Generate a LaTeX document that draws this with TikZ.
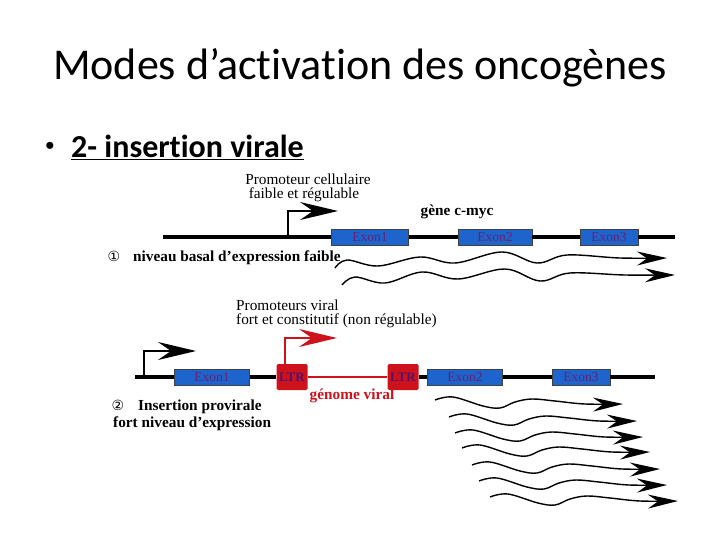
\documentclass[tikz,border=0pt]{standalone}
\usepackage{fontspec}
\setmainfont[Ligatures=ResetAll]{Liberation Serif}
\newfontfamily\calibri[RawFeature={-liga}]{Carlito}
\newfontfamily\circfont{DejaVu Sans}
\newfontfamily\bulfont{Liberation Sans}
\usetikzlibrary{arrows.meta}
\definecolor{exonblue}{RGB}{30,100,205}
\definecolor{exontext}{RGB}{100,35,115}
\definecolor{ltrred}{RGB}{205,18,28}
\definecolor{ltrtext}{RGB}{80,20,110}
\begin{document}
\begin{tikzpicture}[x=1pt,y=-1pt,
  dna/.style={line width=3.6pt},
  exon/.style={draw=black!75, line width=0.7pt, fill=exonblue, minimum height=16pt, inner sep=0pt,
    font=\fontsize{13.5}{13.5}\selectfont, text=exontext},
  ltr/.style={fill=ltrred, rounded corners=1.5pt, minimum width=31pt, minimum height=26pt, inner sep=0pt,
    font=\bfseries\fontsize{13}{13}\selectfont, text=ltrtext},
  promo/.style={line width=2.6pt, -{Stealth[length=38pt,width=18pt,inset=13pt]}},
  wave/.style={line width=1.4pt, -{Stealth[length=30pt,width=14pt,inset=10pt]}},
  lbl/.style={font=\fontsize{15.3}{17}\selectfont, inner sep=0pt},
  blbl/.style={font=\bfseries\fontsize{15.3}{17}\selectfont, inner sep=0pt},
  circ/.style={inner sep=0pt, font=\circfont\fontsize{14}{14}\selectfont}
]
\useasboundingbox (0,0) rectangle (720,540);

% title and bullet
\node[anchor=base, inner sep=0pt, font=\calibri\fontsize{44}{44}\selectfont] (title) at (360,80) {Modes d’activation des oncogènes};
\node[inner sep=0pt, font=\bulfont\fontsize{26}{26}\selectfont] (bul) at (50,148) {•};
\node[anchor=base west, inner sep=0pt, font=\calibri\bfseries\fontsize{32}{32}\selectfont] (sub) at (71,158) {\underline{2- insertion virale}};

% ---------- diagram 1 ----------
\coordinate (l1s) at (163,237);
\coordinate (l1e) at (675,237);
\node[exon, minimum width=77pt] (a1) at (370,237) {Exon1};
\node[exon, minimum width=74pt] (a2) at (495,237) {Exon2};
\node[exon, minimum width=58pt] (a3) at (609,237) {Exon3};
\draw[dna] (l1s) -- (a1) (a1) -- (a2) (a2) -- (a3) (a3) -- (l1e);
\coordinate (p1) at (288,237);
\coordinate (p1t) at (338,211);
\draw[promo] (p1) |- (p1t);
\node[lbl] (t1a) at (308,179) {Promoteur cellulaire};
\node[lbl] (t1b) at (304,195) {faible et régulable};
\node[blbl] (t1c) at (457,212) {gène c-myc};
\node[circ] (c1) at (114,256) {①};
\node[blbl, anchor=west] (t1d) at (133,258) {niveau basal d'expression faible};

\draw[wave] plot[smooth, tension=0.6] coordinates {(335,268) (347,260) (378,266) (420,257) (455,263) (502,252) (537,263) (567,255) (620,258) (667,258)};
\draw[wave] plot[smooth, tension=0.6] coordinates {(342,285) (355,277) (385,283) (422,272) (458,279) (505,269) (540,281) (570,273) (625,275) (675,275)};

% ---------- diagram 2 ----------
\coordinate (l2s) at (135,377);
\coordinate (l2e) at (655,377);
\node[exon, minimum width=75pt] (b1) at (212,377) {Exon1};
\node[ltr] (r1) at (292,377) {LTR};
\node[ltr] (r2) at (403,377) {LTR};
\node[exon, minimum width=75pt] (b2) at (465,377) {Exon2};
\node[exon, minimum width=58pt] (b3) at (581,377) {Exon3};
\draw[dna] (l2s) -- (b1) (b1) -- (r1) (r2) -- (b2) (b2) -- (b3) (b3) -- (l2e);
\draw[line width=2.6pt, ltrred] (r1) -- (r2);
\coordinate (p2) at (144,377);
\coordinate (p2t) at (196,351);
\draw[promo] (p2) |- (p2t);
\coordinate (p3t) at (337,338);
\draw[promo, ltrred] (r1.north) ++(-7,0) |- (p3t);
\node[lbl, anchor=west] (t2a) at (236,305) {Promoteurs viral};
\node[lbl, anchor=west] (t2b) at (236,321) {fort et constitutif (non régulable)};
\node[blbl, text=ltrred] (t2c) at (352,396) {génome viral};
\node[circ] (c2) at (118,405) {②};
\node[blbl, anchor=west] (t2d) at (138,407) {Insertion provirale};
\node[blbl, anchor=west] (t2e) at (113,424) {fort niveau d'expression};

\foreach \sx/\sy in {435/400, 449/417, 455/433, 462/448, 472/465, 479/481, 490/497}{
  \draw[wave] plot[smooth, tension=0.6] coordinates {(\sx,\sy) ({\sx+18},{\sy-3}) ({\sx+48},{\sy+6}) ({\sx+65},{\sy+8}) ({\sx+80},{\sy+2}) ({\sx+97},{\sy-1}) ({\sx+120},{\sy+1}) ({\sx+150},{\sy+4}) ({\sx+188},{\sy+4})};
}
\end{tikzpicture}
\end{document}
